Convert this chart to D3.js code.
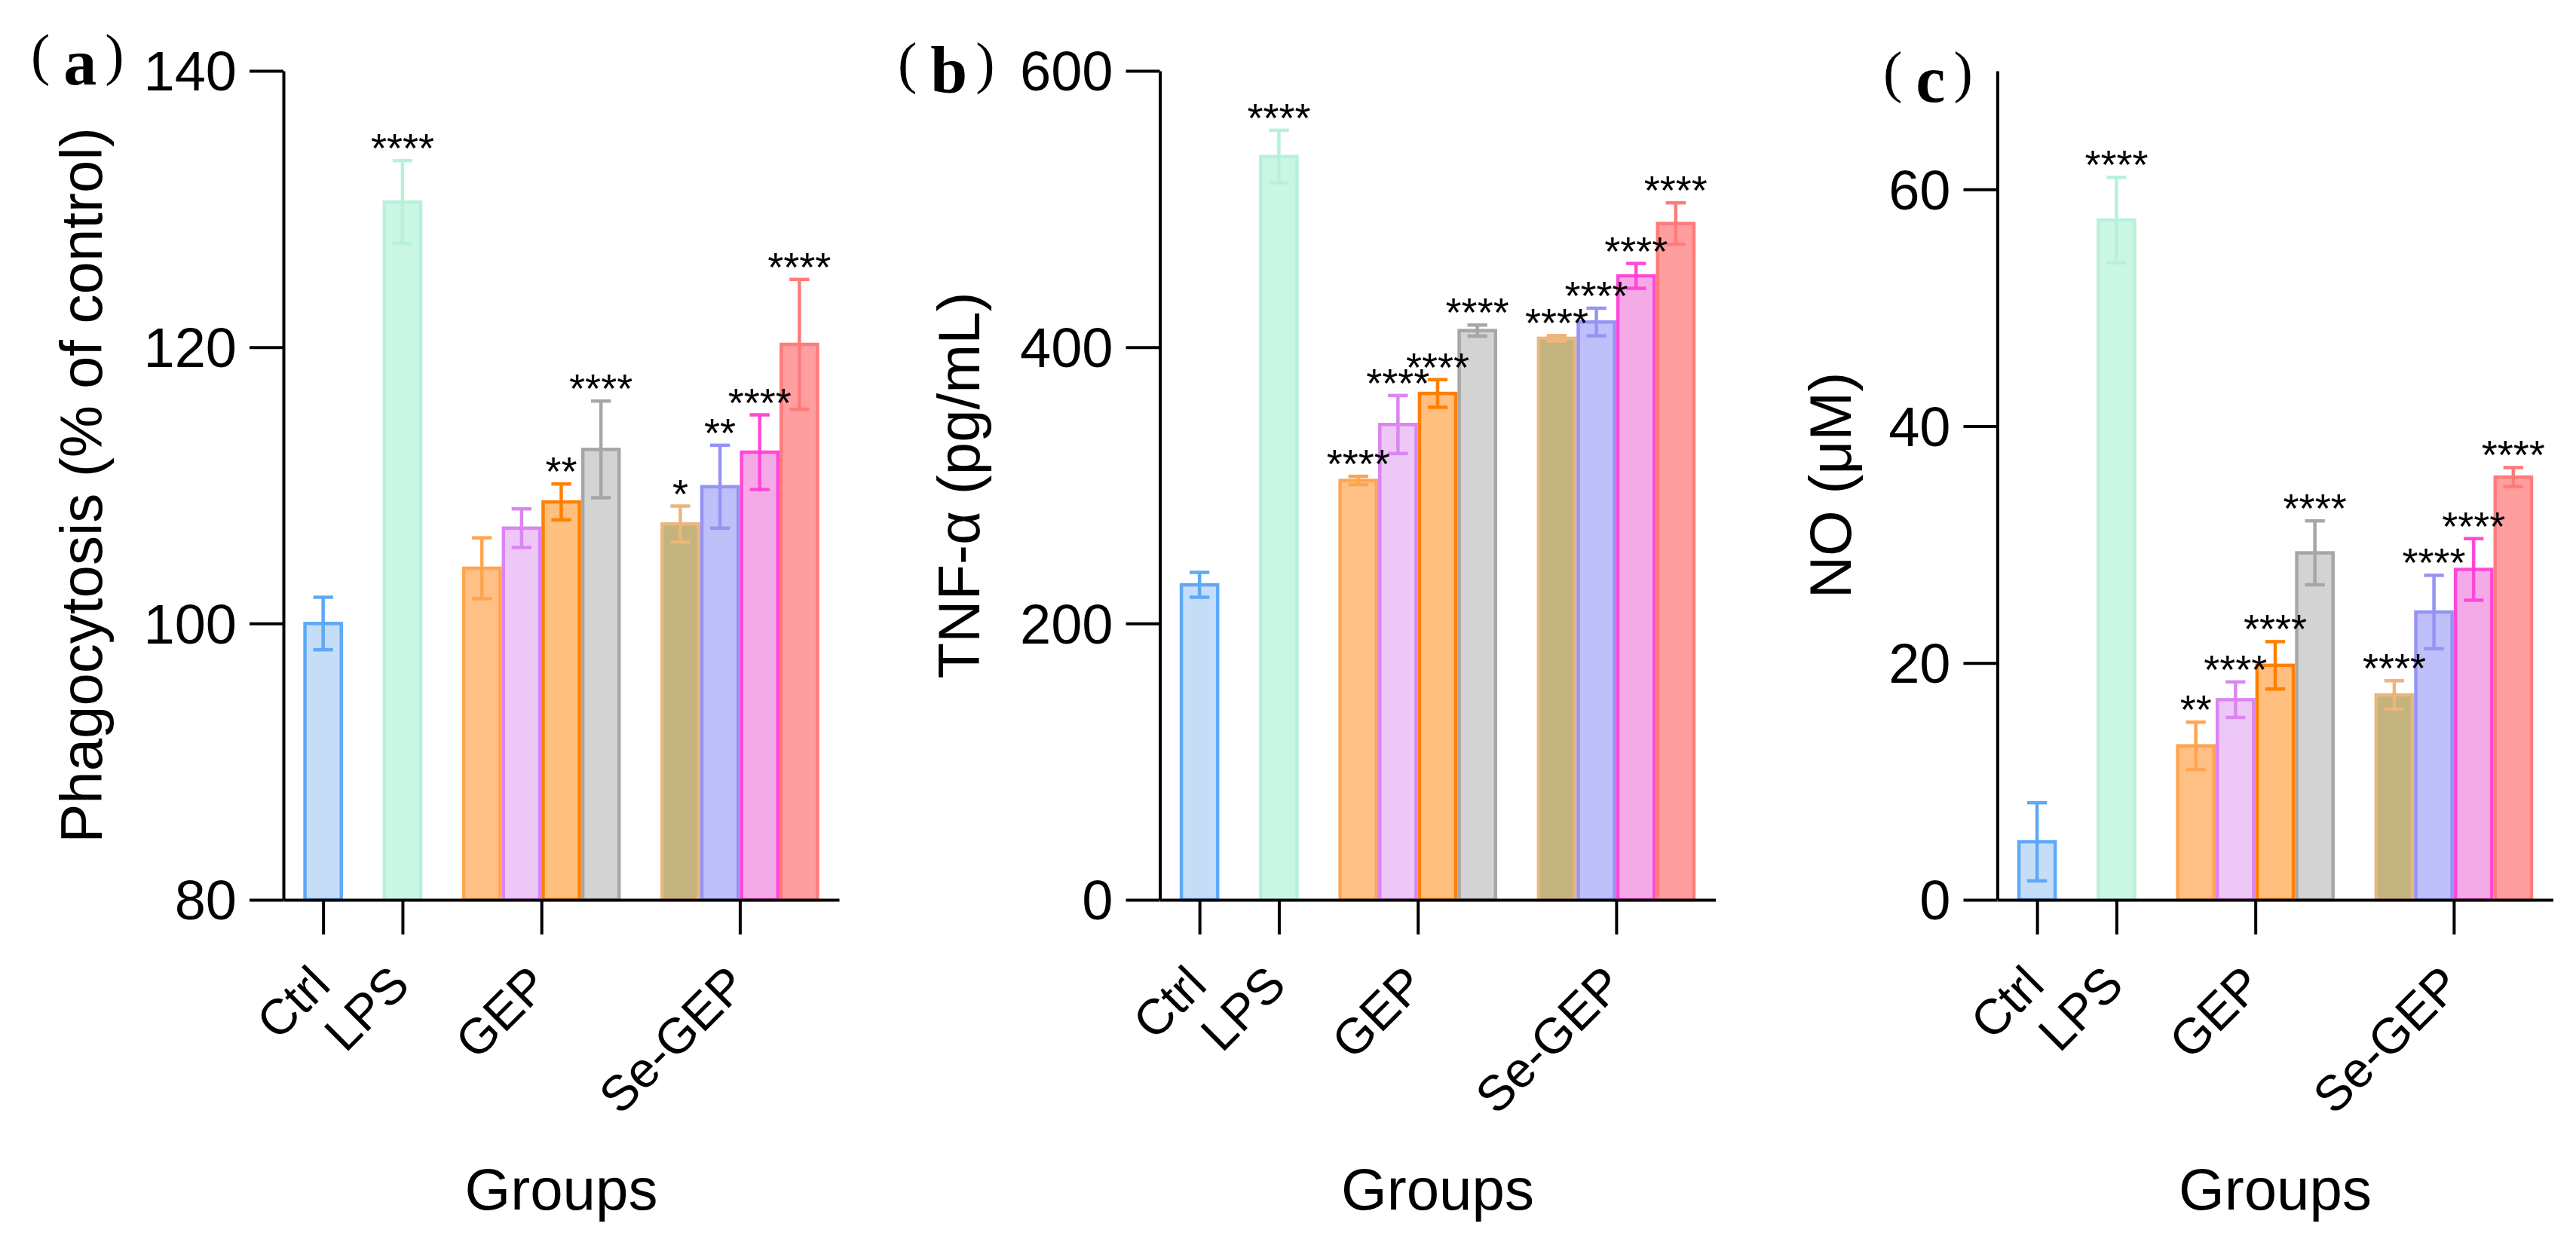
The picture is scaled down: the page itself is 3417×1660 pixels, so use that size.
<!DOCTYPE html>
<html>
<head>
  <meta charset="utf-8">
  <script src="https://d3js.org/d3.v7.min.js"></script>
  <style>
    body { margin: 0; background: #fff; }
    text { font-family: "Liberation Sans", Arial, sans-serif; fill: #000; }
  </style>
</head>
<body>
<script>
  /*
    Data
  */
  var groups = ["Ctrl", "LPS", "GEP", "Se-GEP"];
  var groupSizes = [1, 1, 4, 4];

  // (a) phagocytosis, % of control
  var phagoMean = [100, 130.5, 104.0, 106.9, 108.8, 112.6, 107.2, 109.9, 112.4, 120.2];
  var phagoSD   = [1.9, 3.0, 2.2, 1.4, 1.3, 3.5, 1.3, 3.0, 2.7, 4.7];
  var phagoSig  = ["", "****", "", "", "**", "****", "*", "**", "****", "****"];
  var phagoTicks = [80, 100, 120, 140];

  // (b) TNF-alpha, pg/mL
  var tnfMean = [228, 538, 303.5, 344, 366.5, 412, 406.4, 418.2, 451.6, 489.5];
  var tnfSD   = [9, 19, 3, 21, 10, 4, 2, 10, 9, 15];
  var tnfSig  = ["", "****", "****", "****", "****", "****", "****", "****", "****", "****"];
  var tnfTicks = [0, 200, 400, 600];

  // (c) NO, uM
  var noMean = [4.9, 57.4, 13.0, 16.9, 19.8, 29.3, 17.3, 24.3, 27.9, 35.7];
  var noSD   = [3.3, 3.6, 2.0, 1.5, 2.0, 2.7, 1.2, 3.1, 2.6, 0.8];
  var noSig  = ["", "****", "**", "****", "****", "****", "****", "****", "****", "****"];
  var noTicks = [0, 20, 40, 60];

  /*
    Colours, one per bar
  */
  var barFill   = ["#C6DDF7", "#C9F7E4", "#FFC085", "#EDC8F7", "#FFBF7F", "#D3D3D3", "#C2B47C", "#BFBFFA", "#F5AAE8", "#FF9E9E"];
  var barStroke = ["#5FA8F7", "#B8F0DA", "#FFA54F", "#DA85F2", "#FF8000", "#A6A6A6", "#EDB57C", "#9494F5", "#FF48D8", "#FF7B7B"];

  var panels = [
    { tag: "a", title: "Phagocytosis (% of control)", mean: phagoMean, sd: phagoSD, sig: phagoSig,
      domain: [80, 140], ticks: phagoTicks, x0: 376, titleOff: 241, lx: 41, ly: 112 },
    { tag: "b", title: "TNF-\u03b1 (pg/mL)", mean: tnfMean, sd: tnfSD, sig: tnfSig,
      domain: [0, 600], ticks: tnfTicks, x0: 1538.5, titleOff: 240, lx: 1191, ly: 123 },
    { tag: "c", title: "NO (\u03bcM)", mean: noMean, sd: noSD, sig: noSig,
      domain: [0, 70], ticks: noTicks, x0: 2649.5, titleOff: 195, lx: 2498, ly: 135 }
  ];

  var W = 3417, H = 1660;
  var plotW = 737, plotTop = 94, plotBottom = 1194;
  var sw = 4.5;

  /*
    Slot layout: half slot at each end, one slot gap between groups
  */
  var slots = [], centers = [];
  var pos = 0.5;
  groupSizes.forEach(function(n, g) {
    if (g > 0) pos += 1;
    centers.push(pos + n / 2);
    for (var k = 0; k < n; k++) slots.push(pos + k);
    pos += n;
  });
  var nSlots = pos + 0.5;

  var svg = d3.select("body").append("svg")
    .attr("width", W)
    .attr("height", H);

  panels.forEach(function(p) {
    var g = svg.append("g");
    var x = d3.scaleLinear().domain([0, nSlots]).range([p.x0, p.x0 + plotW]);
    var y = d3.scaleLinear().domain(p.domain).range([plotBottom, plotTop]);
    var bars = d3.range(p.mean.length);

    // bars
    g.selectAll("rect.bar").data(bars).enter().append("rect")
      .attr("class", "bar")
      .attr("x", function(i) { return x(slots[i]) + sw / 2; })
      .attr("width", function(i) { return x(slots[i] + 1) - x(slots[i]) - sw; })
      .attr("y", function(i) { return y(p.mean[i]); })
      .attr("height", function(i) { return y(p.domain[0]) - y(p.mean[i]); })
      .style("fill", function(i) { return barFill[i]; })
      .style("stroke", function(i) { return barStroke[i]; })
      .style("stroke-width", sw);

    // error bars
    var capHalf = (x(1) - x(0)) / 4;
    var eb = g.selectAll("g.err").data(bars).enter().append("g")
      .attr("class", "err")
      .style("stroke", function(i) { return barStroke[i]; })
      .style("stroke-width", sw);
    eb.append("line")
      .attr("x1", function(i) { return x(slots[i] + 0.5); })
      .attr("x2", function(i) { return x(slots[i] + 0.5); })
      .attr("y1", function(i) { return y(p.mean[i] - p.sd[i]); })
      .attr("y2", function(i) { return y(p.mean[i] + p.sd[i]); });
    [1, -1].forEach(function(s) {
      eb.append("line")
        .attr("x1", function(i) { return x(slots[i] + 0.5) - capHalf; })
        .attr("x2", function(i) { return x(slots[i] + 0.5) + capHalf; })
        .attr("y1", function(i) { return y(p.mean[i] + s * p.sd[i]); })
        .attr("y2", function(i) { return y(p.mean[i] + s * p.sd[i]); });
    });

    // significance stars
    g.selectAll("text.sig").data(bars).enter().append("text")
      .attr("class", "sig")
      .attr("x", function(i) { return x(slots[i] + 0.5); })
      .attr("y", function(i) { return y(p.mean[i] + p.sd[i]) + 2; })
      .attr("text-anchor", "middle")
      .style("font-size", "54px")
      .text(function(i) { return p.sig[i]; });

    // y axis
    var yAxis = g.append("g")
      .attr("transform", "translate(" + p.x0 + ",0)")
      .call(d3.axisLeft(y).tickValues(p.ticks).tickSize(45).tickSizeOuter(0).tickPadding(17));
    yAxis.selectAll("text").style("font-size", "74px").attr("dy", "0.35em");

    // x axis
    var xAxis = g.append("g")
      .attr("transform", "translate(0," + plotBottom + ")")
      .call(d3.axisBottom(x).tickValues(centers)
        .tickFormat(function(d, i) { return groups[i]; })
        .tickSize(46).tickSizeOuter(0));
    xAxis.selectAll("text")
      .attr("x", null).attr("y", null).attr("dy", null)
      .attr("text-anchor", "end")
      .attr("transform", "translate(12,116) rotate(-45)")
      .style("font-size", "66px");

    g.selectAll(".domain, .tick line")
      .style("stroke", "#000")
      .style("stroke-width", 4);
    g.selectAll(".tick text").style("fill", "#000").style("font-family", "\"Liberation Sans\", Arial, sans-serif");

    // axis titles
    var midY = (plotTop + plotBottom) / 2;
    g.append("text")
      .attr("transform", "translate(" + (p.x0 - p.titleOff) + "," + midY + ") rotate(-90)")
      .attr("text-anchor", "middle")
      .style("font-size", "78px")
      .text(p.title);

    g.append("text")
      .attr("x", p.x0 + plotW / 2)
      .attr("y", 1605)
      .attr("text-anchor", "middle")
      .style("font-size", "78px")
      .text("Groups");

    // panel tag, e.g. (a)
    var lab = g.append("text")
      .attr("x", p.lx)
      .attr("y", p.ly)
      .style("font-family", "\"Liberation Serif\", \"Times New Roman\", serif");
    lab.append("tspan").attr("dy", -14).style("font-size", "76px").text("(");
    lab.append("tspan").attr("dx", 18).attr("dy", 14).style("font-size", "88px").style("font-weight", "bold").text(p.tag);
    lab.append("tspan").attr("dx", 11).attr("dy", -14).style("font-size", "76px").text(")");
  });
</script>
</body>
</html>
